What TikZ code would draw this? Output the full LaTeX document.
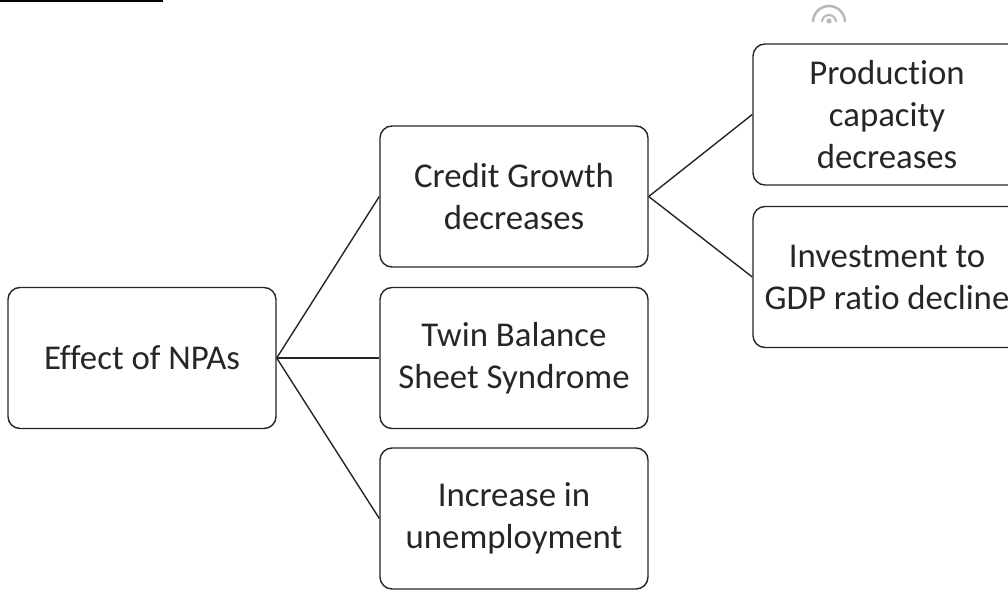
\documentclass[tikz,border=0pt]{standalone}
\usepackage{fontspec}
\setmainfont[Ligatures=NoCommon]{Carlito}
\begin{document}
\begin{tikzpicture}[x=1pt,y=-1pt,
  box/.style={draw=black!85, line width=1.4pt, rounded corners=12pt, minimum width=268pt, minimum height=141pt, align=center, inner sep=0pt, font=\fontsize{34.8}{42}\selectfont, text=black!85},
  link/.style={draw=black!85, line width=1.4pt}]
\useasboundingbox (0,0) rectangle (1008,589);
\clip (0,0) rectangle (1008,589);
\fill[white] (0,0) rectangle (1008,589);
% top remnants
\draw[line width=1.8pt] (0,0.8) -- (163,0.8);
\draw[gray!55, line width=2.5pt] (813,22) arc[start angle=180, end angle=360, radius=16];
\draw[gray!55, line width=2pt] (822,22) arc[start angle=180, end angle=360, radius=7];
\fill[gray!55] (829,21) circle (2.5);
% nodes
\node[box] (npa) at (142,358) {Effect of NPAs};
\node[box] (credit) at (514,196.5) {Credit Growth\\decreases};
\node[box] (twin) at (514,358) {Twin Balance\\Sheet Syndrome};
\node[box] (unemp) at (514,518.5) {Increase in\\unemployment};
\node[box] (prod) at (887,114.5) {Production\\capacity\\decreases};
\node[box] (invest) at (887,277) {Investment to\\GDP ratio decline};
% connectors
\draw[link] (npa.east) -- (credit.west);
\draw[link] (npa.east) -- (twin.west);
\draw[link] (npa.east) -- (unemp.west);
\draw[link] (credit.east) -- (prod.west);
\draw[link] (credit.east) -- (invest.west);
\end{tikzpicture}
\end{document}
